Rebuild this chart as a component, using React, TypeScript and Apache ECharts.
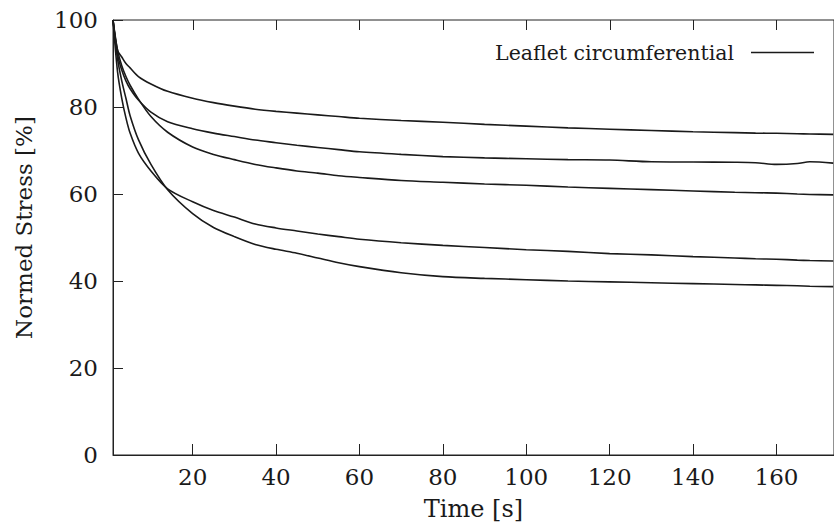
import { useEffect, useRef } from "react";
import * as echarts from "echarts";

// Relaxation test: time samples [s] shared by all five specimens
const timeS = [0.9, 2, 3, 4, 5, 7, 10, 14, 20, 25, 30, 35, 40, 45, 50, 55, 60, 70, 80, 90, 100, 110, 120, 130, 140, 150, 155, 160, 165, 168, 173.6];

// Normed stress [%] of each specimen
const specimen1 = [100, 93, 91.5, 90, 89, 87, 85.3, 83.6, 82.0, 81.0, 80.2, 79.5, 79.0, 78.6, 78.2, 77.8, 77.4, 76.9, 76.5, 76.0, 75.6, 75.2, 74.9, 74.6, 74.3, 74.1, 74.0, 73.95, 73.85, 73.8, 73.7];
const specimen2 = [100, 92, 88.5, 86, 84.2, 81.6, 78.8, 76.6, 75.0, 74.0, 73.2, 72.4, 71.8, 71.2, 70.7, 70.2, 69.7, 69.1, 68.6, 68.3, 68.1, 67.9, 67.8, 67.4, 67.35, 67.3, 67.2, 66.8, 67.0, 67.4, 67.1];
const specimen3 = [100, 93, 89.5, 87, 85, 81.8, 77.8, 74.2, 70.8, 69.1, 67.9, 66.8, 66.0, 65.3, 64.8, 64.2, 63.8, 63.1, 62.7, 62.3, 62.0, 61.6, 61.3, 61.0, 60.7, 60.4, 60.3, 60.2, 60.0, 59.9, 59.8];
const specimen4 = [100, 88, 82, 77.5, 74, 69.4, 65.3, 61.2, 58.2, 56.2, 54.7, 53.1, 52.2, 51.5, 50.8, 50.2, 49.6, 48.8, 48.2, 47.7, 47.2, 46.8, 46.3, 46.0, 45.6, 45.3, 45.1, 45.0, 44.8, 44.7, 44.6];
const specimen5 = [100, 91, 86, 82, 78, 72.5, 66.8, 61.0, 55.5, 52.3, 50.2, 48.4, 47.3, 46.4, 45.3, 44.2, 43.3, 41.9, 41.0, 40.6, 40.3, 40.0, 39.8, 39.6, 39.4, 39.2, 39.1, 39.0, 38.9, 38.8, 38.7];

const specimens = [specimen1, specimen2, specimen3, specimen4, specimen5];

const xTickValues = [20, 40, 60, 80, 100, 120, 140, 160];
const curveName = "Leaflet circumferential";
const xAxisTitle = "Time [s]";
const yAxisTitle = "Normed Stress [%]";

const FONT = "DejaVu Serif";
const INK = "#1a1a1a";
const AXIS = "#222222";

const X_MIN = 0.9;
const X_MAX = 173.8;
const Y_MAX = 100;

export default function App() {
  const ref = useRef<HTMLDivElement>(null);

  useEffect(() => {
    if (!ref.current) return;
    const chart = echarts.init(ref.current, null, { renderer: "svg" });

    // Mirrored ticks hanging from the top frame edge, placed through the x scale
    const topTicks = {
      name: "topTicks",
      type: "custom",
      silent: true,
      clip: false,
      data: xTickValues.map((v) => [v, Y_MAX]),
      renderItem: (_params: any, api: any) => {
        const p = api.coord([api.value(0), api.value(1)]);
        const x = Math.round(p[0]) + 0.5;
        return {
          type: "line",
          shape: { x1: x, y1: p[1], x2: x, y2: p[1] + 10 },
          style: { stroke: AXIS, lineWidth: 1, fill: null },
        };
      },
      z: 3,
    };

    chart.setOption({
      animation: false,
      backgroundColor: "#ffffff",
      textStyle: { fontFamily: FONT, color: INK },
      grid: {
        left: 113,
        right: -1,
        top: 20,
        bottom: 76,
        containLabel: false,
        show: true,
        borderColor: AXIS,
        borderWidth: 1,
      },
      legend: {
        data: [curveName],
        right: 20,
        top: 42,
        align: "right",
        icon: "rect",
        itemWidth: 63,
        itemHeight: 1.6,
        padding: 0,
        textStyle: { fontFamily: FONT, fontSize: 20.5, color: INK, padding: [0, 12, 0, 0] },
      },
      xAxis: {
        type: "value",
        min: X_MIN,
        max: X_MAX,
        name: xAxisTitle,
        nameLocation: "middle",
        nameGap: 42,
        nameTextStyle: { fontFamily: FONT, fontSize: 24, color: INK },
        axisLine: { show: true, onZero: false, lineStyle: { color: AXIS, width: 1 } },
        axisTick: { show: true, inside: true, length: 11, customValues: xTickValues, lineStyle: { color: AXIS, width: 1 } },
        axisLabel: { show: true, customValues: xTickValues, margin: 10, fontFamily: FONT, fontSize: 23, color: INK },
        splitLine: { show: false },
      },
      yAxis: {
        type: "value",
        min: 0,
        max: Y_MAX,
        interval: 20,
        name: yAxisTitle,
        nameLocation: "middle",
        nameGap: 78,
        nameTextStyle: { fontFamily: FONT, fontSize: 23, color: INK, padding: [0, 0, 0, 20] },
        axisLine: { show: true, lineStyle: { color: AXIS, width: 1 } },
        axisTick: { show: true, inside: true, length: 10, lineStyle: { color: AXIS, width: 1 } },
        axisLabel: { margin: 15, fontFamily: FONT, fontSize: 23, color: INK },
        splitLine: { show: false },
      },
      series: [
        ...specimens.map((values) => ({
          name: curveName,
          type: "line",
          data: timeS.map((t, i) => [t, values[i]]),
          symbol: "none",
          showSymbol: false,
          smooth: 0.3,
          lineStyle: { color: INK, width: 1.6 },
          itemStyle: { color: INK },
        })),
        topTicks,
      ],
    });

    return () => chart.dispose();
  }, []);

  return (
    <div
      ref={ref}
      style={{ position: "fixed", left: 0, top: 0, width: 834, height: 531, background: "#ffffff" }}
    />
  );
}
